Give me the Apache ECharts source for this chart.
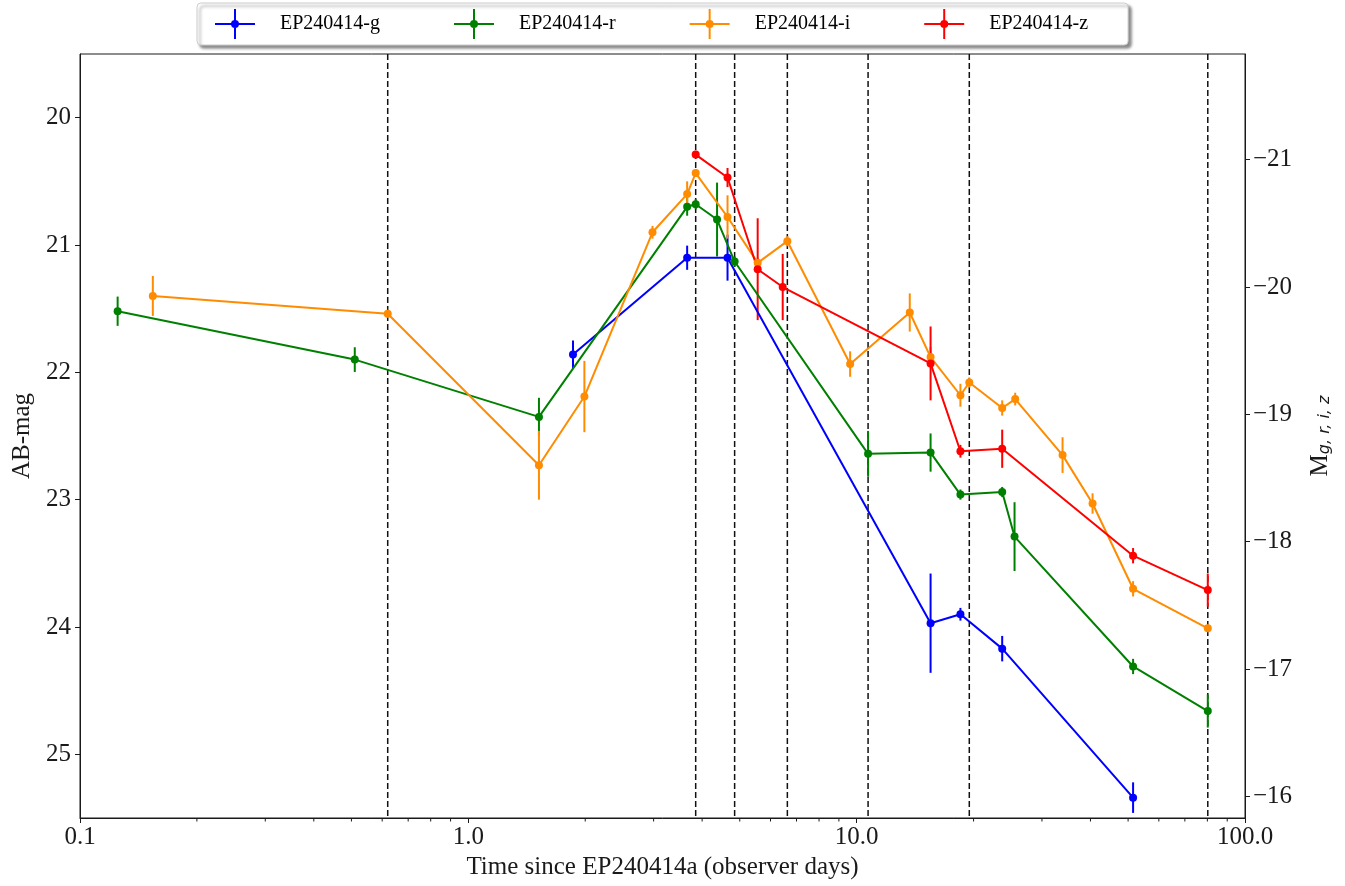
<!DOCTYPE html>
<html>
<head>
<meta charset="utf-8">
<title>EP240414a light curve</title>
<script src="https://cdn.jsdelivr.net/npm/echarts@6/dist/echarts.min.js"></script>
<style>
  html, body { margin: 0; padding: 0; background: #ffffff; }
  #chart { width: 1345px; height: 886px; }
</style>
</head>
<body>
<div id="chart"></div>
<script>
// ---- photometry (observer-frame days, AB magnitudes, 1-sigma errors) ----
const bandNames  = ['EP240414-g', 'EP240414-r', 'EP240414-i', 'EP240414-z'];
const bandColors = ['#0000ff', '#008000', '#ff8c00', '#ff0000'];

const gTime = [1.86, 3.66, 4.65, 15.5, 18.5, 23.7, 51.5];
const gMag  = [21.86, 21.10, 21.10, 23.97, 23.90, 24.17, 25.34];
const gErr  = [0.11, 0.095, 0.18, 0.39, 0.05, 0.10, 0.12];

const rTime = [0.125, 0.51, 1.52, 3.66, 3.85, 4.37, 4.85, 10.7, 15.5, 18.5, 23.7, 25.5, 51.5, 80.2];
const rMag  = [21.52, 21.90, 22.35, 20.70, 20.68, 20.80, 21.13, 22.64, 22.63, 22.96, 22.94, 23.29, 24.31, 24.66];
const rErr  = [0.115, 0.097, 0.15, 0.07, 0.04, 0.29, 0.04, 0.18, 0.15, 0.04, 0.04, 0.27, 0.06, 0.13];

const iTime = [0.154, 0.62, 1.52, 1.99, 2.98, 3.66, 3.85, 4.65, 5.56, 6.63, 9.62, 13.7, 15.5, 18.5, 19.5, 23.7, 25.6, 33.9, 40.5, 51.5, 80.2];
const iMag  = [21.40, 21.54, 22.73, 22.19, 20.90, 20.60, 20.435, 20.78, 21.14, 20.97, 21.935, 21.53, 21.88, 22.18, 22.08, 22.28, 22.21, 22.65, 23.03, 23.70, 24.01];
const iErr  = [0.157, 0.03, 0.27, 0.28, 0.05, 0.10, 0.03, 0.17, 0.04, 0.04, 0.10, 0.15, 0.08, 0.09, 0.04, 0.06, 0.05, 0.14, 0.08, 0.06, 0.03];

const zTime = [3.85, 4.65, 5.56, 6.45, 15.5, 18.5, 23.7, 51.5, 80.2];
const zMag  = [20.29, 20.47, 21.19, 21.33, 21.93, 22.62, 22.60, 23.44, 23.71];
const zErr  = [0.03, 0.075, 0.40, 0.26, 0.29, 0.05, 0.15, 0.06, 0.13];

// spectroscopic epochs (vertical dashed markers)
const specEpochs = [0.62, 3.85, 4.85, 6.63, 10.7, 19.5, 80.2];

// axis ticks
const magTicks = [20, 21, 22, 23, 24, 25];
const absMagTicks = [-21, -20, -19, -18, -17, -16];
const minorTimeTicks = [0.2, 0.3, 0.4, 0.5, 0.6, 0.7, 0.8, 0.9,
                        2, 3, 4, 5, 6, 7, 8, 9,
                        20, 30, 40, 50, 60, 70, 80, 90];

// apparent -> absolute magnitude offset (distance modulus)
const distMod = 41.33;
const magMin = 19.5, magMax = 25.5;

const bands = [
  { t: gTime, m: gMag, e: gErr },
  { t: rTime, m: rMag, e: rErr },
  { t: iTime, m: iMag, e: iErr },
  { t: zTime, m: zMag, e: zErr }
];

const serif = '"Liberation Serif", "Times New Roman", "DejaVu Serif", serif';
const ink = '#1a1a1a';

// legend glyph: line + vertical error bar + dot
const legendIcon = 'path://M0,14 L40,14 L40,16 L0,16 Z M19,0 L21,0 L21,30 L19,30 Z ' +
                   'M24,15 A4,4 0 1,1 16,15 A4,4 0 1,1 24,15 Z';

const series = [];

// dashed epoch markers behind the data
series.push({
  type: 'custom',
  name: 'epochs',
  silent: true,
  z: 1,
  data: specEpochs.map(t => [t, magMin]),
  renderItem: function (params, api) {
    const cs = params.coordSys;
    const x = api.coord([api.value(0), magMin])[0];
    return {
      type: 'line',
      shape: { x1: x, y1: cs.y, x2: x, y2: cs.y + cs.height },
      style: { stroke: '#111', lineWidth: 1.5, lineDash: [6, 3] }
    };
  }
});

// minor ticks on the logarithmic time axis
series.push({
  type: 'custom',
  name: 'minor',
  silent: true,
  clip: false,
  data: minorTimeTicks.map(t => [t, magMax]),
  renderItem: function (params, api) {
    const cs = params.coordSys;
    const x = api.coord([api.value(0), magMax])[0];
    const yb = cs.y + cs.height;
    return {
      type: 'line',
      shape: { x1: x, y1: yb, x2: x, y2: yb + 3.5 },
      style: { stroke: ink, lineWidth: 1 }
    };
  }
});

bands.forEach((b, k) => {
  const color = bandColors[k];
  const pts = b.t.map((t, j) => [t, b.m[j], b.e[j]]);
  series.push({
    type: 'custom',
    name: bandNames[k] + ' err',
    silent: true,
    z: 2,
    data: pts,
    renderItem: function (params, api) {
      const t = api.value(0), m = api.value(1), e = api.value(2);
      const p1 = api.coord([t, m - e]);
      const p2 = api.coord([t, m + e]);
      return {
        type: 'line',
        shape: { x1: p1[0], y1: p1[1], x2: p2[0], y2: p2[1] },
        style: { stroke: color, lineWidth: 2 }
      };
    }
  });
  series.push({
    type: 'line',
    name: bandNames[k],
    z: 3,
    data: pts.map(p => [p[0], p[1]]),
    symbol: 'circle',
    symbolSize: 8,
    showSymbol: true,
    lineStyle: { color: color, width: 2 },
    itemStyle: { color: color, borderWidth: 0 },
    emphasis: { disabled: true }
  });
});

const chart = echarts.init(document.getElementById('chart'), null, { renderer: 'canvas' });
chart.setOption({
  animation: false,
  backgroundColor: '#ffffff',
  textStyle: { fontFamily: serif },
  grid: {
    left: 80, right: 100, top: 54, bottom: 68,
    show: true, borderColor: ink, borderWidth: 1, backgroundColor: 'transparent'
  },
  legend: {
    data: bandNames.map(n => ({ name: n, icon: legendIcon })),
    left: 197, top: 3,
    itemWidth: 40, itemHeight: 30,
    itemGap: 74,
    padding: [6, 40, 6, 18],
    backgroundColor: '#ffffff',
    borderColor: '#cccccc', borderWidth: 1, borderRadius: 4,
    shadowColor: 'rgba(0,0,0,0.45)', shadowBlur: 3, shadowOffsetX: 3, shadowOffsetY: 3,
    textStyle: { fontFamily: serif, fontSize: 20, color: '#000', padding: [0, 0, 0, 20] },
    selectedMode: false
  },
  xAxis: {
    type: 'log',
    logBase: 10,
    min: 0.1, max: 100,
    name: 'Time since EP240414a (observer days)',
    nameLocation: 'middle',
    nameGap: 36,
    nameTextStyle: { fontFamily: serif, fontSize: 25, color: ink },
    axisLine: { show: true, lineStyle: { color: ink, width: 1 } },
    axisTick: { show: true, inside: false, length: 5, lineStyle: { color: ink } },
    axisLabel: {
      fontFamily: serif, fontSize: 25, color: ink, margin: 7,
      formatter: v => Number(v).toFixed(1)
    },
    splitLine: { show: false },
    minorTick: { show: false }
  },
  yAxis: [
    {
      type: 'value',
      inverse: true,
      min: magMin, max: magMax,
      position: 'left',
      name: 'AB-mag',
      nameLocation: 'middle',
      nameGap: 38,
      nameRotate: 90,
      nameTextStyle: { fontFamily: serif, fontSize: 25, color: ink },
      axisLine: { show: true, lineStyle: { color: ink, width: 1 } },
      axisTick: { show: true, length: 5, lineStyle: { color: ink }, customValues: magTicks },
      axisLabel: { fontFamily: serif, fontSize: 25, color: ink, margin: 9, customValues: magTicks },
      splitLine: { show: false }
    },
    {
      type: 'value',
      inverse: true,
      min: magMin - distMod, max: magMax - distMod,
      position: 'right',
      name: '{m|M}{s|g, r, i, z}',
      nameLocation: 'middle',
      nameGap: 62,
      nameRotate: 90,
      nameTextStyle: {
        color: ink,
        rich: {
          m: { fontFamily: serif, fontSize: 25, color: ink },
          s: { fontFamily: '"DejaVu Sans", sans-serif', fontStyle: 'italic', fontSize: 16,
               color: ink, verticalAlign: 'bottom', padding: [10, 0, 0, 0] }
        }
      },
      axisLine: { show: true, lineStyle: { color: ink, width: 1 } },
      axisTick: { show: true, length: 5, lineStyle: { color: ink }, customValues: absMagTicks },
      axisLabel: {
        fontFamily: serif, fontSize: 25, color: ink, margin: 8, customValues: absMagTicks,
        formatter: v => String(Math.round(v)).replace('-', '\u2212')
      },
      splitLine: { show: false }
    }
  ],
  series: series
});
</script>
</body>
</html>
